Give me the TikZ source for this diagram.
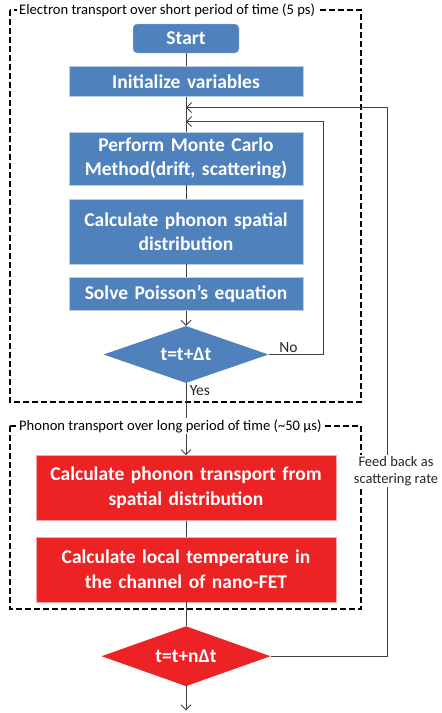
\documentclass[tikz,border=0pt]{standalone}
\usepackage{fontspec}
\setmainfont{Carlito}
\usetikzlibrary{arrows.meta,positioning,shapes.geometric,calc}
\definecolor{stepblue}{RGB}{79,129,189}
\definecolor{stepred}{RGB}{237,34,36}
\definecolor{wirecol}{RGB}{64,64,64}

\begin{document}
\begin{tikzpicture}[x=1pt,y=-1pt,
  boxtext/.style={text=white,font=\fontsize{19.5}{24.5}\selectfont\bfseries,align=center},
  startbox/.style={boxtext,rectangle,rounded corners=4pt,fill=stepblue,draw=white!60!stepblue,minimum width=106pt,minimum height=29pt,inner sep=0pt},
  blk/.style={boxtext,rectangle,fill=stepblue,draw=white!60!stepblue,inner xsep=4pt,inner ysep=0pt,text width=226pt},
  rblk/.style={boxtext,rectangle,fill=stepred,draw=white!60!stepred,inner xsep=4pt,inner ysep=0pt,text width=292pt},
  dec/.style={boxtext,diamond,aspect=2.9,inner sep=0pt,minimum width=165pt,minimum height=57pt},
  wire/.style={draw=wirecol,line width=0.9pt},
  flow/.style={wire,-{Straight Barb[length=5pt,width=10pt]}},
  frame/.style={draw=black,line width=1.6pt,dash pattern=on 6pt off 3pt},
  ttl/.style={fill=white,inner xsep=2pt,inner ysep=1pt,anchor=west,font=\fontsize{14.6}{16}\selectfont},
  lbl/.style={font=\fontsize{15.5}{18}\selectfont,text=black!85,align=center}]
\useasboundingbox (0,0) rectangle (442,713);

% dashed frames
\draw[frame] (10,10) rectangle (361,402);
\draw[frame] (10,426) rectangle (361,609);

% electron part
\node[startbox] (start) at (186,38.5) {Start};
\node[blk,minimum height=30pt] (init) [below=13pt of start] {Initialize variables};
\node[blk,minimum height=53pt] (mc) [below=35pt of init] {Perform Monte Carlo\\Method(drift, scattering)};
\node[blk,minimum height=65pt] (spat) [below=14pt of mc] {Calculate phonon spatial\\distribution};
\node[blk,minimum height=33pt] (poisson) [below=13pt of spat] {Solve Poisson’s equation};
\node[dec,fill=stepblue] (chk) [below=15pt of poisson] {t=t+Δt};

% phonon part
\node[rblk,minimum height=65pt] (ptr) [below=72pt of chk] {Calculate phonon transport from\\spatial distribution};
\node[rblk,minimum height=65pt] (temp) [below=16pt of ptr] {Calculate local temperature in\\the channel of nano-FET};
\node[dec,fill=stepred,minimum width=169pt,minimum height=60pt] (chk2) [below=24pt of temp] {t=t+nΔt};

\coordinate (loopin) at ($(init.south)+(0,25)$);
\coordinate (fbin) at ($(init.south)+(0,11)$);
\coordinate (finish) at ($(chk2.south)+(0,24)$);

\draw[wire] (start) -- (init);
\draw[wire] (init) -- (mc);
\draw[wire] (mc) -- (spat);
\draw[wire] (spat) -- (poisson);
\draw[flow] (poisson) -- (chk);
\draw[flow] (chk) -- node[lbl,pos=0.1,right] {Yes} (ptr);
\draw[wire] (ptr) -- (temp);
\draw[wire] (temp) -- (chk2);
\draw[flow] (chk2) -- (finish);

% loops back
\draw[flow] (chk.east) -- node[lbl,pos=0.36,above,inner sep=1pt] {No} ++(55,0) |- (loopin);
\draw[flow] (chk2.east) -- ++(117,0) |- (fbin);
\node[lbl,fill=white,inner sep=1pt,font=\fontsize{14.5}{17.5}\selectfont] (fb) at (396,471) {Feed back as\\scattering rate};

% frame titles
\node[ttl] (ttlA) at (17,10) {Electron transport over short period of time (5 ps)};
\node[ttl] (ttlB) at (17,426) {Phonon transport over long period of time (\textasciitilde 50 µs)};
\end{tikzpicture}
\end{document}
